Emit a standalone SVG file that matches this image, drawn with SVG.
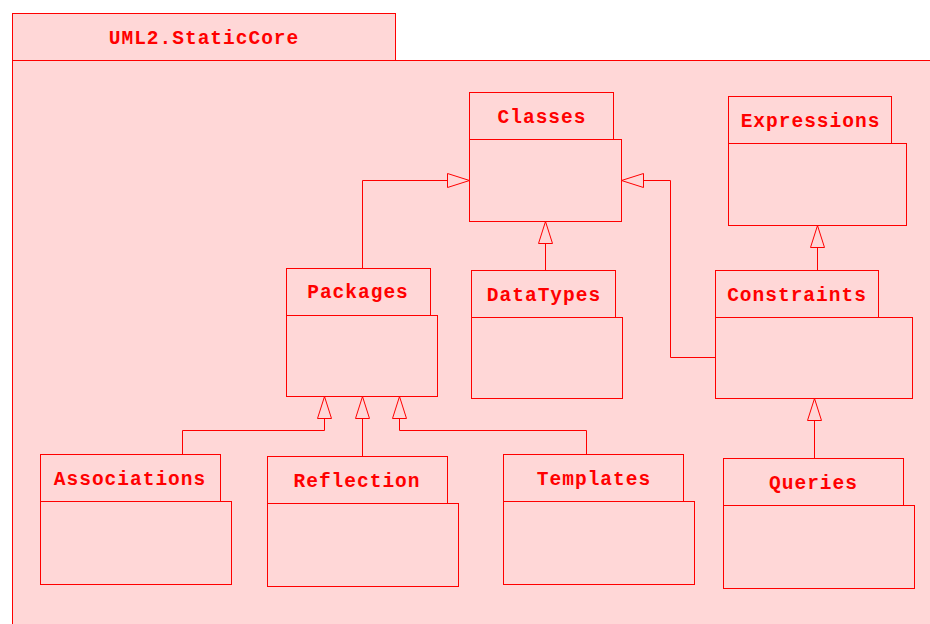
<svg xmlns="http://www.w3.org/2000/svg" width="930" height="624" viewBox="0 0 930 624">
<style>
.box{fill:#FFD7D7;stroke:#FF0000;stroke-width:1}
.lbl{font-family:"Liberation Mono","Courier New",monospace;font-weight:bold;font-size:19.5px;letter-spacing:1px;fill:#FF0000;text-anchor:middle}
.edge{fill:none;stroke:#FF0000;stroke-width:1}
</style>
<defs>
<marker id="gen" viewBox="0 0 24 16" refX="23" refY="8" markerWidth="24" markerHeight="16" markerUnits="userSpaceOnUse" orient="auto">
<path d="M1,1 L23,8 L1,15 Z" fill="#FFD7D7" stroke="#FF0000" stroke-width="1"/>
</marker>
</defs>
<rect width="930" height="624" fill="#FFFFFF"/>
<g id="UML2.StaticCore">
<rect class="box" x="12.5" y="60.5" width="930" height="600"/>
<rect class="box" x="12.5" y="13.5" width="383" height="47"/>
<text class="lbl" x="204" y="44">UML2.StaticCore</text>
</g>
<g id="Classes">
<rect class="box" x="469.5" y="139.5" width="152" height="82"/>
<rect class="box" x="469.5" y="92.5" width="144" height="47"/>
<text class="lbl" x="542" y="123">Classes</text>
</g>
<g id="Expressions">
<rect class="box" x="728.5" y="143.5" width="178" height="82"/>
<rect class="box" x="728.5" y="96.5" width="163" height="47"/>
<text class="lbl" x="810.5" y="127">Expressions</text>
</g>
<g id="Packages">
<rect class="box" x="286.5" y="315.5" width="151" height="81"/>
<rect class="box" x="286.5" y="268.5" width="144" height="47"/>
<text class="lbl" x="358" y="298">Packages</text>
</g>
<g id="DataTypes">
<rect class="box" x="471.5" y="317.5" width="151" height="81"/>
<rect class="box" x="471.5" y="270.5" width="144" height="47"/>
<text class="lbl" x="544" y="301">DataTypes</text>
</g>
<g id="Constraints">
<rect class="box" x="715.5" y="317.5" width="197" height="81"/>
<rect class="box" x="715.5" y="270.5" width="163" height="47"/>
<text class="lbl" x="797" y="301">Constraints</text>
</g>
<g id="Associations">
<rect class="box" x="40.5" y="501.5" width="191" height="83"/>
<rect class="box" x="40.5" y="454.5" width="180" height="47"/>
<text class="lbl" x="130" y="484.5">Associations</text>
</g>
<g id="Reflection">
<rect class="box" x="267.5" y="503.5" width="191" height="83"/>
<rect class="box" x="267.5" y="456.5" width="180" height="47"/>
<text class="lbl" x="357" y="486.5">Reflection</text>
</g>
<g id="Templates">
<rect class="box" x="503.5" y="501.5" width="191" height="83"/>
<rect class="box" x="503.5" y="454.5" width="180" height="47"/>
<text class="lbl" x="594" y="484.5">Templates</text>
</g>
<g id="Queries">
<rect class="box" x="723.5" y="505.5" width="191" height="83"/>
<rect class="box" x="723.5" y="458.5" width="180" height="47"/>
<text class="lbl" x="813.5" y="488.5">Queries</text>
</g>
<g id="connectors">
<path class="edge" d="M362.5,268.5 L362.5,180.5 L469.5,180.5" marker-end="url(#gen)"/>
<path class="edge" d="M545.5,270.5 L545.5,221.5" marker-end="url(#gen)"/>
<path class="edge" d="M715.5,357.5 L670.5,357.5 L670.5,180.5 L621.5,180.5" marker-end="url(#gen)"/>
<path class="edge" d="M817.5,270.5 L817.5,225.5" marker-end="url(#gen)"/>
<path class="edge" d="M814.5,458.5 L814.5,398.5" marker-end="url(#gen)"/>
<path class="edge" d="M182.5,454.5 L182.5,430.5 L324.5,430.5 L324.5,396.5" marker-end="url(#gen)"/>
<path class="edge" d="M362.5,456.5 L362.5,396.5" marker-end="url(#gen)"/>
<path class="edge" d="M586.5,454.5 L586.5,430.5 L399.5,430.5 L399.5,396.5" marker-end="url(#gen)"/>
</g>
</svg>
